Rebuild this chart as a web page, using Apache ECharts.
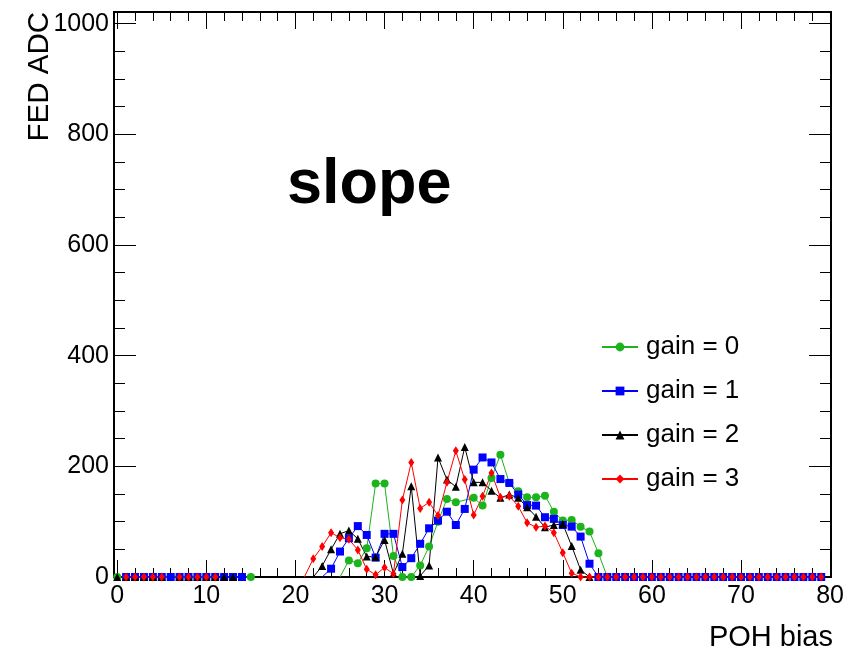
<!DOCTYPE html>
<html>
<head>
<meta charset="utf-8">
<script src="https://cdn.jsdelivr.net/npm/echarts@6/dist/echarts.min.js"></script>
<style>html,body{margin:0;padding:0;background:#fff}#c{width:868px;height:654px}</style>
</head>
<body>
<div id="c"></div>
<script>
// ---- data (x = POH bias, y = FED ADC); null marks a gap in the graph ----
const greenX = [0,1,2,3,4,5,6,7,8,9,10,11,12,13,14,15,null,25,26,27,28,29,30,31,32,33,34,35,36,37,38,40,41,42,43,44,45,46,47,48,49,50,51,52,53,54,55];
const greenY = [0,0,0,0,0,0,0,0,0,0,0,0,0,0,0,0,null,0,30,25,52,169,169,38,0,0,21,55,100,141,135,143,129,179,221,170,155,144,144,147,118,102,103,91,82,43,0];

const blueX = [1,2,3,4,5,6,7,8,9,10,11,12,13,14,null,23,24,25,26,27,28,29,30,31,32,33,34,35,36,37,38,39,40,41,42,43,44,45,46,47,48,49,50,51,52,53,54,55,56,57,58,59,60,61,62,63,64,65,66,67,68,69,70,71,72,73,74,75,76,77,78,79];
const blueY = [0,0,0,0,0,0,0,0,0,0,0,0,0,0,null,0,15,46,70,92,76,35,78,78,18,34,60,88,102,118,94,123,194,216,207,177,170,149,130,129,108,105,94,91,73,24,0,0,0,0,0,0,0,0,0,0,0,0,0,0,0,0,0,0,0,0,0,0,0,0,0,0];

const blackX = [0,1,2,3,4,5,7,8,9,10,11,12,13,null,22,23,24,25,26,27,28,29,30,31,32,33,34,35,36,37,38,39,40,41,42,43,44,45,46,47,48,49,50,51,52,53];
const blackY = [0,0,0,0,0,0,0,0,0,0,0,0,0,null,0,20,50,78,84,69,37,36,67,6,42,164,2,21,216,176,163,235,171,171,156,143,149,143,126,109,90,94,96,56,13,0];

const redX = [1,2,3,4,5,7,8,9,10,11,null,21,22,23,24,25,26,27,28,29,30,31,32,33,34,35,36,37,38,39,40,41,42,43,44,45,46,47,48,49,50,51,52,53,54,55,56,57,58,59,60,61,62,63,64,65,66,67,68,69,70,71,72,73,74,75,76,77,78,79];
const redY = [0,0,0,0,0,0,0,0,0,0,null,0,33,55,80,71,68,49,14,4,17,6,139,207,124,135,111,171,228,176,112,146,188,144,146,128,98,90,92,80,44,7,0,0,0,0,0,0,0,0,0,0,0,0,0,0,0,0,0,0,0,0,0,0,0,0,0,0,0,0];

const seriesNames = ['gain = 0','gain = 1','gain = 2','gain = 3'];
const xLabelValues = [0,10,20,30,40,50,60,70,80];
const xMinorValues = [0,2,4,6,8,10,12,14,16,18,20,22,24,26,28,30,32,34,36,38,40,42,44,46,48,50,52,54,56,58,60,62,64,66,68,70,72,74,76,78,80];
const yLabelValues = [0,200,400,600,800,1000];
const yMinorValues = [0,50,100,150,200,250,300,350,400,450,500,550,600,650,700,750,800,850,900,950,1000];

function build(xs, ys){
  const out = [];
  let afterGap = true;
  for (let i = 0; i < xs.length; i++){
    if (xs[i] === null){ out.push(['-','-']); afterGap = true; continue; }
    if (afterGap && i > 0 && ys[i] === 0) out.push({value:[xs[i], ys[i]], symbol:'none'});
    else out.push([xs[i], ys[i]]);
    afterGap = false;
  }
  return out;
}

const FONT = 'Liberation Sans, Arial, Helvetica, sans-serif';
const XMIN = -0.36, XMAX = 80.1, YMIN = 0, YMAX = 1021;
const plain = v => String(v);

function xAx(pos, tickLen, values, labels){
  return {type:'value', position:pos, min:XMIN, max:XMAX, gridIndex:0,
    axisLine:{show:true, onZero:false, lineStyle:{color:'#000', width:2}},
    axisTick:{show:true, inside:true, length:tickLen, customValues:values, lineStyle:{color:'#000', width:1}},
    axisLabel:{show:labels, customValues:xLabelValues, formatter:plain, color:'#000', fontSize:25, fontFamily:FONT, margin:7},
    splitLine:{show:false}};
}
function yAx(pos, tickLen, values, labels){
  return {type:'value', position:pos, min:YMIN, max:YMAX, gridIndex:0,
    axisLine:{show:true, onZero:false, lineStyle:{color:'#000', width:2}},
    axisTick:{show:true, inside:true, length:tickLen, customValues:values, lineStyle:{color:'#000', width:1}},
    axisLabel:{show:labels, customValues:yLabelValues, formatter:plain, color:'#000', fontSize:25, fontFamily:FONT, margin:5},
    splitLine:{show:false}};
}

const colors = ['#1db31d','#0000ff','#000000','#ff0000'];
const symbols = ['circle','rect','triangle','diamond'];
const sizes = [8,8,8,[6,9]];
const allX = [greenX, blueX, blackX, redX];
const allY = [greenY, blueY, blackY, redY];

const series = seriesNames.map((n,i)=>({
  name:n, type:'line', xAxisIndex:0, yAxisIndex:0,
  data: build(allX[i], allY[i]),
  symbol: symbols[i], symbolSize: sizes[i], showAllSymbol:true,
  lineStyle:{color:colors[i], width:1},
  itemStyle:{color:colors[i]},
  connectNulls:false, animation:false, clip:false
}));

const chart = echarts.init(document.getElementById('c'), null, {renderer:'canvas'});
chart.setOption({
  backgroundColor:'#fff',
  animation:false,
  grid:{left:114, right:37, top:12, bottom:77, containLabel:false},
  xAxis:[
    xAx('bottom', 17, xLabelValues, true),
    xAx('bottom', 9, xMinorValues, false),
    xAx('top', 17, xLabelValues, false),
    xAx('top', 9, xMinorValues, false)
  ],
  yAxis:[
    yAx('left', 22, yLabelValues, true),
    yAx('left', 11, yMinorValues, false),
    yAx('right', 22, yLabelValues, false),
    yAx('right', 11, yMinorValues, false)
  ],
  legend:{
    orient:'vertical', left:601, top:334, padding:0, itemWidth:36, itemHeight:11, itemGap:18,
    textStyle:{color:'#000', fontSize:26, fontFamily:FONT, padding:[0,0,0,3]},
    data:seriesNames
  },
  graphic:[
    {type:'text', left:287, top:154, style:{text:'slope', fill:'#000', font:'bold 63px '+FONT}},
    {type:'text', left:25, top:12, rotation:Math.PI/2, style:{text:'FED ADC', fill:'#000', font:'29.5px '+FONT}, originX:0, originY:0},
    {type:'text', right:35, top:623, style:{text:'POH bias', fill:'#000', font:'29px '+FONT}}
  ],
  series: series
});
</script>
</body>
</html>
